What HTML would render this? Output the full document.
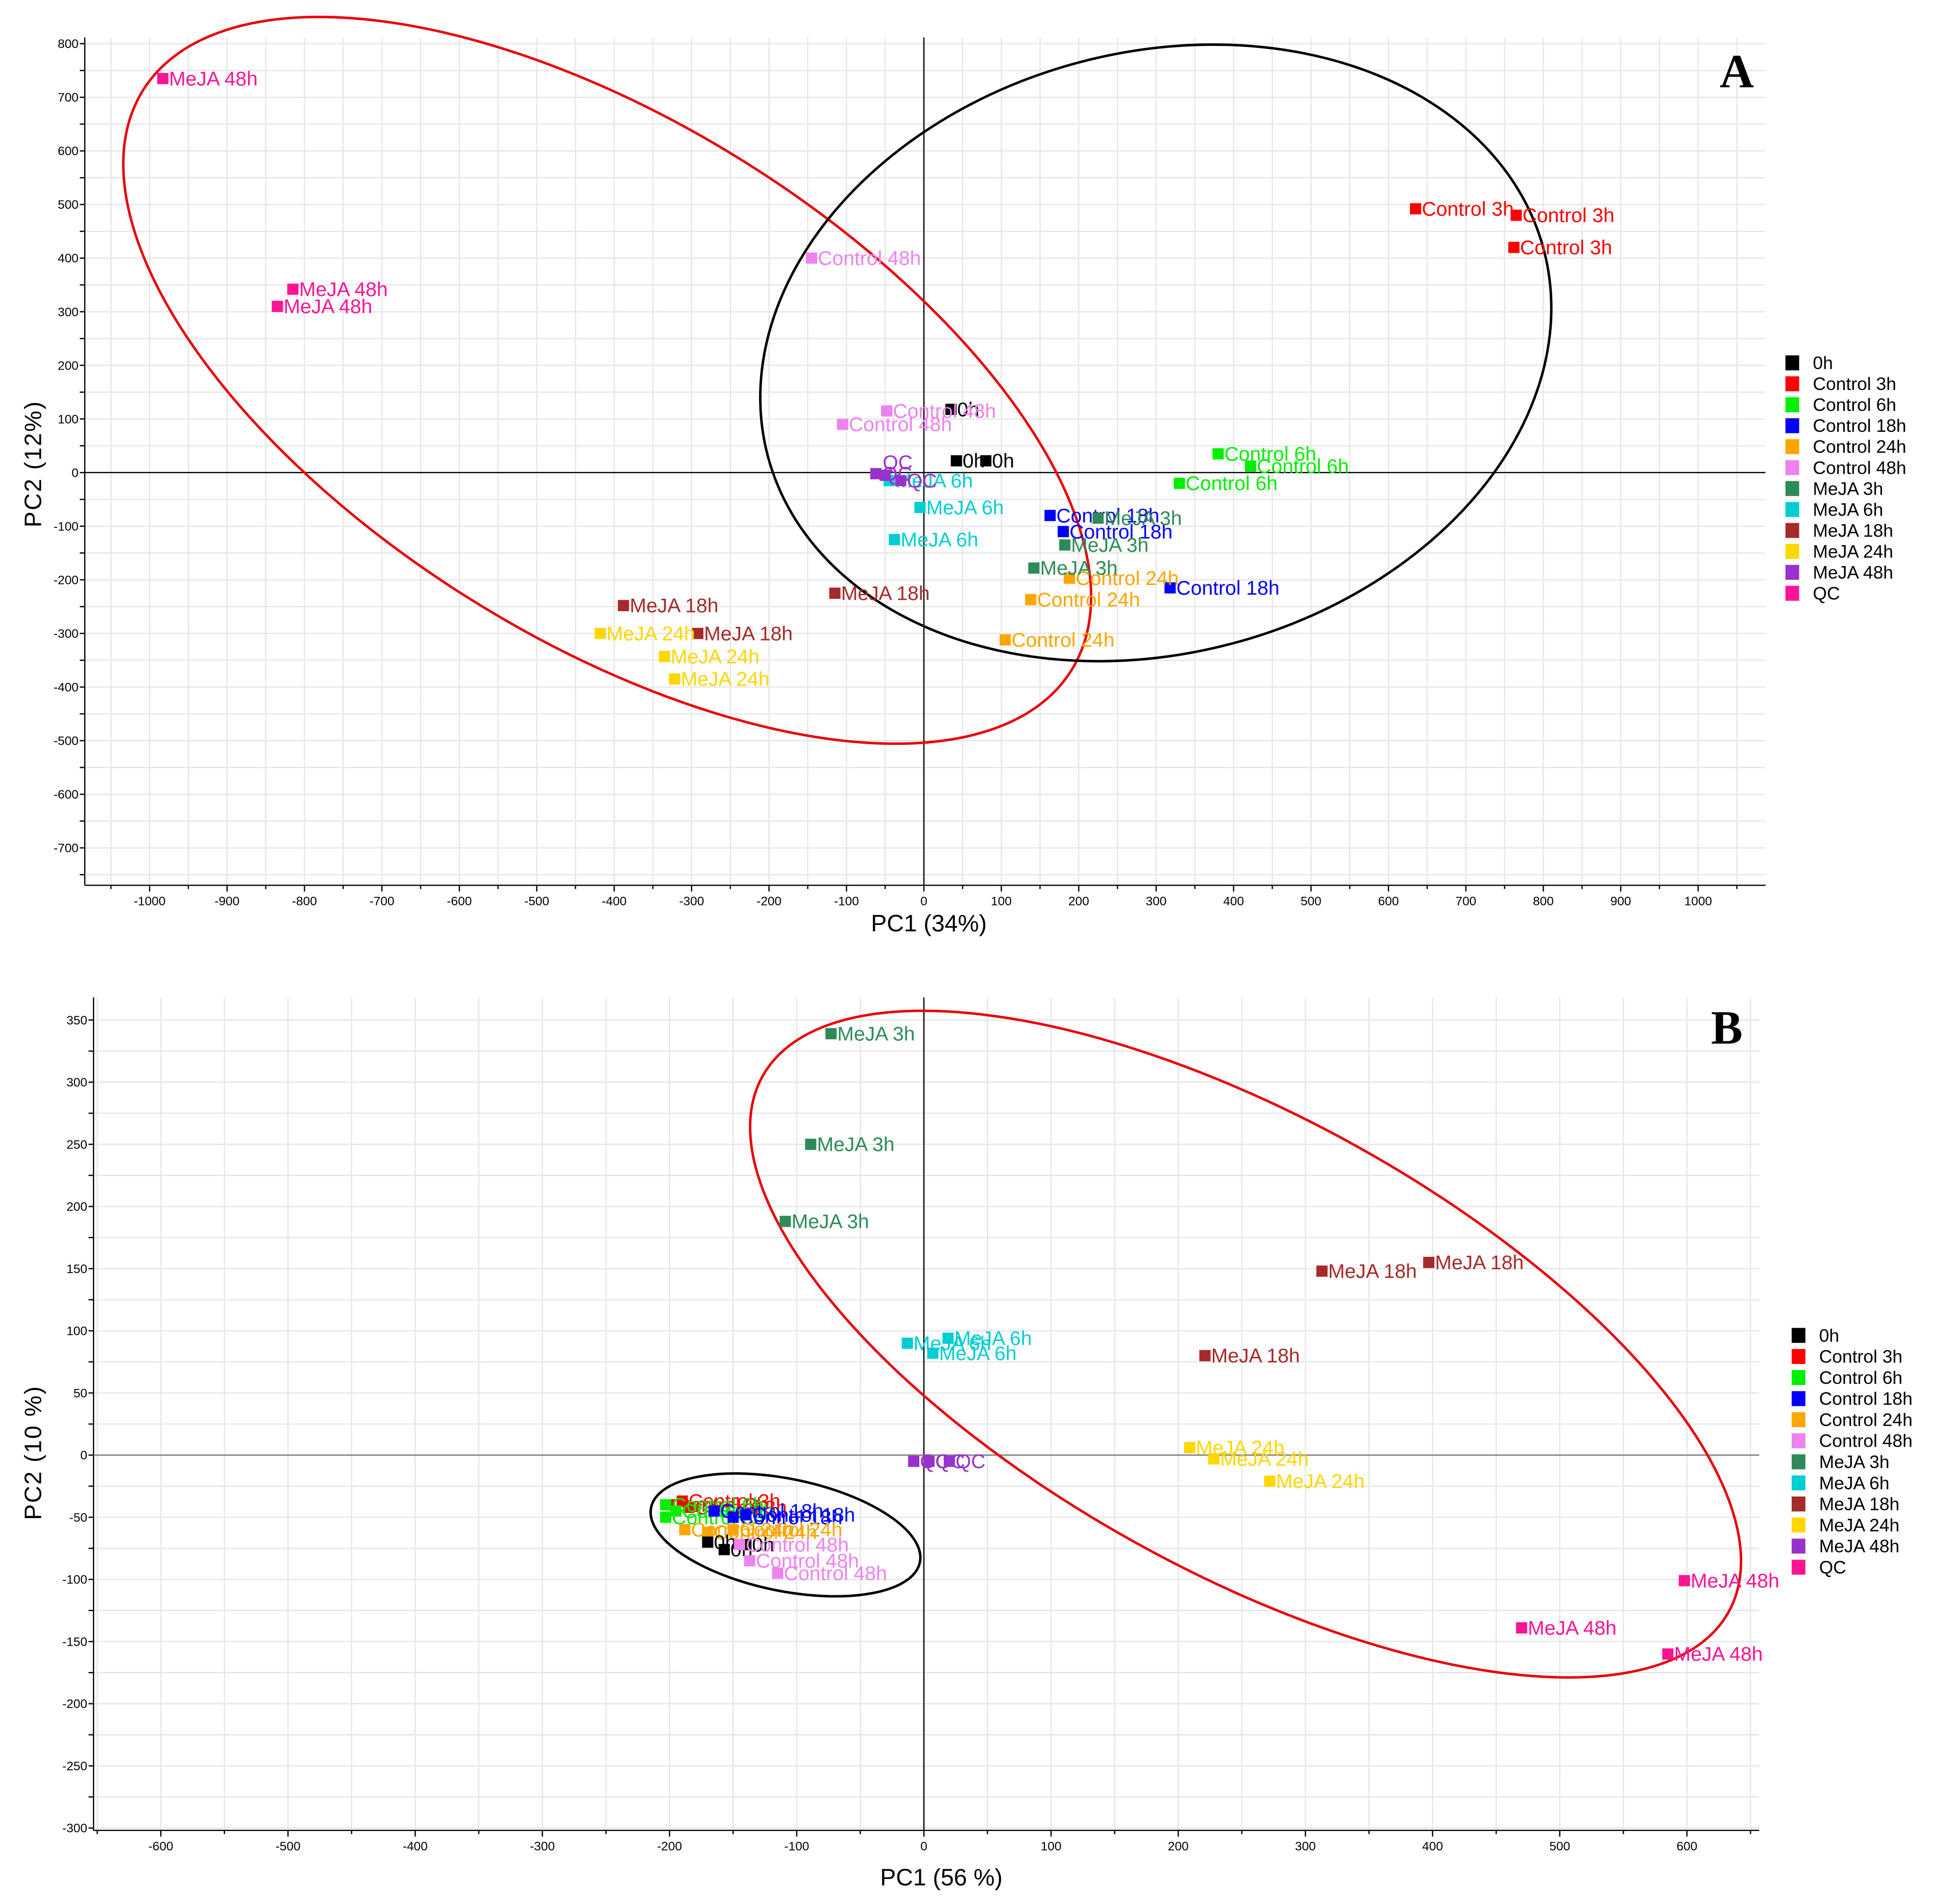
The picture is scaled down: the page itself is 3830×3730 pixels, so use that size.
<!DOCTYPE html>
<html><head><meta charset="utf-8">
<style>html,body{margin:0;padding:0;background:#fff}svg{display:block}text{font-family:"Liberation Sans",sans-serif}</style>
</head><body>
<svg id="svg" width="3830" height="3730" viewBox="0 0 1568 1527" xmlns="http://www.w3.org/2000/svg">
<g id="panelA"></g>
<g id="panelB"></g>
</svg>
<script>
// ---- Data ----
const groupNames = ["0h","Control 3h","Control 6h","Control 18h","Control 24h","Control 48h","MeJA 3h","MeJA 6h","MeJA 18h","MeJA 24h","MeJA 48h","QC"];
const groupColors = ["#000000","#ff0000","#00ee00","#0000ff","#ffa500","#ee82ee","#2e8b57","#00ced1","#a52a2a","#ffd700","#9932cc","#ff1493"];
// Panel A points: [label, group index, PC1, PC2]
const pointsA = [
 ["0h",0,35,118],["0h",0,42,22],["0h",0,80,22],
 ["Control 3h",1,635,492],["Control 3h",1,765,480],["Control 3h",1,762,420],
 ["Control 6h",2,380,35],["Control 6h",2,422,12],["Control 6h",2,330,-20],
 ["Control 18h",3,163,-80],["Control 18h",3,180,-110],["Control 18h",3,318,-215],
 ["Control 24h",4,188,-197],["Control 24h",4,138,-237],["Control 24h",4,105,-312],
 ["Control 48h",5,-145,400],["Control 48h",5,-48,115],["Control 48h",5,-105,90],
 ["MeJA 3h",6,225,-85],["MeJA 3h",6,182,-135],["MeJA 3h",6,142,-178],
 ["MeJA 6h",7,-5,-65],["MeJA 6h",7,-38,-125],["MeJA 6h",7,-45,-15],
 ["MeJA 18h",8,-388,-248],["MeJA 18h",8,-115,-225],["MeJA 18h",8,-292,-300],
 ["MeJA 24h",9,-418,-300],["MeJA 24h",9,-335,-343],["MeJA 24h",9,-322,-385],
 ["QC",10,-62,-2],["QC",10,-50,-5],["QC",10,-30,-15],
 ["MeJA 48h",11,-983,735],["MeJA 48h",11,-815,342],["MeJA 48h",11,-835,310]
];
const pointsB = [
 ["Control 3h",1,-190,-37],["Control 3h",1,-200,-40],["Control 3h",1,-185,-42],
 ["Control 6h",2,-203,-40],["Control 6h",2,-203,-50],["Control 6h",2,-195,-45],
 ["Control 18h",3,-165,-45],["Control 18h",3,-150,-50],["Control 18h",3,-140,-48],
 ["Control 24h",4,-188,-60],["Control 24h",4,-170,-62],["Control 24h",4,-150,-60],
 ["0h",0,-170,-70],["0h",0,-157,-76],["0h",0,-140,-72],
 ["Control 48h",5,-145,-72],["Control 48h",5,-137,-85],["Control 48h",5,-115,-95],
 ["MeJA 3h",6,-73,339],["MeJA 3h",6,-89,250],["MeJA 3h",6,-109,188],
 ["MeJA 6h",7,-13,90],["MeJA 6h",7,19,94],["MeJA 6h",7,7,82],
 ["MeJA 18h",8,313,148],["MeJA 18h",8,397,155],["MeJA 18h",8,221,80],
 ["MeJA 24h",9,209,6],["MeJA 24h",9,228,-3],["MeJA 24h",9,272,-21],
 ["QC",10,-8,-5],["QC",10,4,-5],["QC",10,20,-5],
 ["MeJA 48h",11,598,-101],["MeJA 48h",11,470,-139],["MeJA 48h",11,585,-160]
];
const ticksAx = [-1000,-900,-800,-700,-600,-500,-400,-300,-200,-100,0,100,200,300,400,500,600,700,800,900,1000];
const ticksAy = [800,700,600,500,400,300,200,100,0,-100,-200,-300,-400,-500,-600,-700];
const ticksBx = [-600,-500,-400,-300,-200,-100,0,100,200,300,400,500,600];
const ticksBy = [350,300,250,200,150,100,50,0,-50,-100,-150,-200,-250,-300];

const NS="http://www.w3.org/2000/svg";
function mk(tag,parent,attrs,txt){const e=document.createElementNS(NS,tag);for(const k in attrs)e.setAttribute(k,attrs[k]);if(txt!==undefined)e.textContent=txt;parent.appendChild(e);return e;}

function drawPanel(g,cfg,points,ticksX,ticksY){
  const X=v=>cfg.x0+v*cfg.kx, Y=v=>cfg.y0-v*cfg.ky;
  const grid=mk("g",g,{stroke:"#e6e6e6","stroke-width":"1"});
  
  
  for(let v=cfg.gx0;v<=cfg.gx1;v+=cfg.gxs){const x=X(v);if(x>cfg.L&&x<cfg.R)mk("line",grid,{x1:x,x2:x,y1:cfg.T,y2:cfg.B});}
  for(let v=cfg.gy0;v<=cfg.gy1;v+=cfg.gys){const y=Y(v);if(y>cfg.T&&y<cfg.B)mk("line",grid,{x1:cfg.L,x2:cfg.R,y1:y,y2:y});}
  const ax=mk("g",g,{stroke:"#000","stroke-width":"1"});
  
  
  mk("line",ax,{x1:cfg.L,x2:cfg.L,y1:cfg.T,y2:cfg.B});
  mk("line",ax,{x1:cfg.L,x2:cfg.R,y1:cfg.B,y2:cfg.B});
  mk("line",ax,{x1:X(0),x2:X(0),y1:cfg.T,y2:cfg.B});
  mk("line",ax,{x1:cfg.L,x2:cfg.R,y1:Y(0),y2:Y(0),stroke:cfg.zeroH});
  for(let v=cfg.gx0;v<=cfg.gx1;v+=cfg.gxs){const x=X(v);if(x>=cfg.L&&x<=cfg.R)mk("line",ax,{x1:x,x2:x,y1:cfg.B,y2:cfg.B+(v%(cfg.gxs*2)===0?5:3)});}
  for(let v=cfg.gy0;v<=cfg.gy1;v+=cfg.gys){const y=Y(v);if(y>=cfg.T&&y<=cfg.B)mk("line",ax,{x1:cfg.L-4,x2:cfg.L,y1:y,y2:y});}
  const tl=mk("g",g,{"font-size":"10",fill:"#000"});
  
  
  ticksX.forEach(v=>{const t=mk("text",tl,{x:X(v),y:cfg.B+16,"text-anchor":"middle"},String(v));});
  ticksY.forEach(v=>{const t=mk("text",tl,{x:cfg.L-5,y:Y(v)+3.5,"text-anchor":"end"},String(v));});
  cfg.ellipses.forEach(e=>{const el=mk("ellipse",g,{cx:e[0],cy:e[1],rx:e[2],ry:e[3],transform:`rotate(${e[4]} ${e[0]} ${e[1]})`,fill:"none",stroke:e[5],"stroke-width":"2"});});
  const pg=mk("g",g,{"font-size":"16"});
  
  
  points.forEach((p,i)=>{
    const x=X(p[2]),y=Y(p[3]),c=groupColors[p[1]];
    const r=mk("rect",pg,{x:x-4.5,y:y-4.5,width:9,height:9,fill:c});
    
    
    let lx=x+5, ly=y+5.5;
    if(cfg.qcUp && p[0]==="QC" && i===cfg.qcUp){lx=x-2; ly=y-5;}
    const t=mk("text",pg,{x:lx,y:ly,fill:c},p[0]);
    
    
  });
  const xt=mk("text",g,{x:cfg.xtX,y:cfg.xtY,"font-size":"19","text-anchor":"middle"},cfg.xTitle);
  
  const yt=mk("text",g,{x:0,y:0,"font-size":"19","text-anchor":"middle",transform:`translate(33 ${cfg.ytY}) rotate(-90)`,"letter-spacing":"1"},cfg.yTitle);
  
  const pl=mk("text",g,{x:cfg.letX,y:cfg.letY,"text-anchor":"middle",style:"font-family:'Liberation Serif',serif;font-size:38px;font-weight:bold"},cfg.letter);
  
  const lg=mk("g",g,{"font-size":"14.5"});
  
  
  groupNames.forEach((n,i)=>{
    const y=cfg.legY+i*cfg.legStep;
    const s=mk("rect",lg,{x:cfg.legX,y:y-6,width:11,height:12,fill:groupColors[i]});
    
    const t=mk("text",lg,{x:cfg.legX+22,y:y+5,fill:"#000"},n);
    
  });
}

drawPanel(document.getElementById("panelA"),{
  L:68,R:1416,T:30,B:710,x0:741,kx:0.621,y0:379,ky:0.43,
  gx0:-1050,gx1:1100,gxs:50,gy0:-750,gy1:850,gys:50,zeroH:"#000",
  ellipses:[[487,305,439,207,32,"#e8000b"],[927,283,322,241,-15,"#000"]],
  xTitle:"PC1 (34%)",xtX:745,xtY:747,yTitle:"PC2 (12%)",ytY:372,
  letter:"A",letX:1393,letY:70,legX:1432,legY:291,legStep:16.8,qcUp:31
},pointsA,ticksAx,ticksAy);

drawPanel(document.getElementById("panelB"),{
  L:75,R:1411,T:800,B:1468,x0:741,kx:1.02,y0:1167,ky:0.997,
  gx0:-650,gx1:650,gxs:50,gy0:-300,gy1:375,gys:25,zeroH:"#777",
  ellipses:[[999,1078,443,182,29,"#e8000b"],[630,1231,110,45,11.5,"#000"]],
  xTitle:"PC1 (56 %)",xtX:755,xtY:1512,yTitle:"PC2 (10 %)",ytY:1165,
  letter:"B",letX:1385,letY:837,legX:1437,legY:1071,legStep:16.9
},pointsB,ticksBx,ticksBy);
</script>
</body></html>
